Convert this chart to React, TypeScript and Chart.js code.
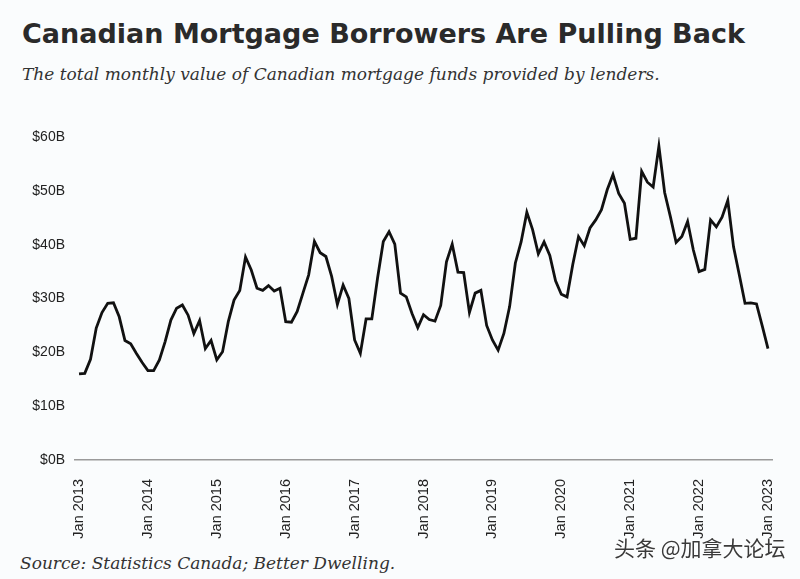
import React, { useEffect, useRef } from "react";
import { Chart, registerables } from "chart.js";

Chart.register(...registerables);

const yearLabels = ["Jan 2013", "Jan 2014", "Jan 2015", "Jan 2016", "Jan 2017", "Jan 2018", "Jan 2019", "Jan 2020", "Jan 2021", "Jan 2022", "Jan 2023"];

// Monthly values ($B), Jan 2013 .. Jan 2023
const values2013 = [16.0, 16.1, 18.7, 24.5, 27.4, 29.1, 29.2, 26.6, 22.2, 21.6, 19.8, 18.1];
const values2014 = [16.6, 16.6, 18.6, 22.0, 26.0, 28.2, 28.8, 26.9, 23.5, 25.9, 20.7, 22.2];
const values2015 = [18.6, 20.1, 25.7, 29.7, 31.5, 37.7, 35.3, 31.9, 31.5, 32.4, 31.4, 31.9];
const values2016 = [25.7, 25.6, 27.6, 31.0, 34.4, 40.6, 38.5, 37.8, 34.1, 28.9, 32.5, 30.0];
const values2017 = [22.3, 19.8, 26.2, 26.2, 33.8, 40.6, 42.4, 40.1, 31.0, 30.3, 27.2, 24.6];
const values2018 = [27.0, 26.1, 25.8, 28.7, 36.8, 40.1, 34.9, 34.8, 27.4, 31.0, 31.5, 25.0];
const values2019 = [22.3, 20.4, 23.5, 28.5, 36.6, 40.5, 46.0, 42.8, 38.3, 40.5, 38.0, 33.3];
const values2020 = [30.8, 30.3, 36.3, 41.5, 39.8, 43.1, 44.6, 46.5, 50.2, 53.0, 49.5, 47.7];
const values2021 = [41.0, 41.2, 53.6, 51.6, 50.7, 58.3, 49.7, 45.2, 40.4, 41.5, 44.3, 39.0];
const values2022 = [35.0, 35.4, 44.6, 43.3, 45.1, 48.2, 39.6, 34.4, 29.1, 29.2, 29.0, 24.9];
const values2023 = [20.7];

const yTicks = [0, 10, 20, 30, 40, 50, 60];

const allValues = [
  ...values2013, ...values2014, ...values2015, ...values2016, ...values2017,
  ...values2018, ...values2019, ...values2020, ...values2021, ...values2022, ...values2023,
];

export default function App() {
  const ref = useRef<HTMLCanvasElement | null>(null);

  useEffect(() => {
    if (!ref.current) return;
    const data = allValues.map((v, i) => ({ x: i, y: v }));
    const chart = new Chart(ref.current, {
      type: "line",
      data: {
        datasets: [
          {
            data,
            borderColor: "#111111",
            borderWidth: 2.8,
            pointRadius: 0,
            tension: 0,
            fill: false,
          },
        ],
      },
      options: {
        animation: false,
        responsive: false,
        maintainAspectRatio: false,
        layout: { padding: { left: 0, right: 28, top: 37, bottom: 0 } },
        plugins: { legend: { display: false }, tooltip: { enabled: false } },
        scales: {
          x: {
            type: "linear",
            min: -0.7,
            max: 120.7,
            afterBuildTicks: (scale: any) => {
              scale.ticks = yearLabels.map((_, k) => ({ value: k * 12 }));
            },
            afterFit: (scale: any) => {
              scale.height = 85;
              scale.paddingLeft = 0;
              scale.paddingRight = 0;
            },
            grid: { display: false, drawTicks: false },
            border: { display: true, color: "#9a9a9a", width: 1.5 },
            ticks: {
              autoSkip: false,
              minRotation: 90,
              maxRotation: 90,
              padding: 19,
              color: "#222222",
              font: { family: "'Liberation Sans', Arial, sans-serif", size: 14.5 },
              callback: (v: any) => yearLabels[Math.round(Number(v) / 12)] ?? "",
            },
          },
          y: {
            min: 0,
            max: 60,
            afterBuildTicks: (scale: any) => {
              scale.ticks = yTicks.map((v) => ({ value: v }));
            },
            afterFit: (scale: any) => {
              scale.width = 75;
              scale.paddingTop = 0;
              scale.paddingBottom = 0;
            },
            grid: { display: false, drawTicks: false },
            border: { display: false },
            ticks: {
              padding: 10,
              color: "#222222",
              font: { family: "'Liberation Sans', Arial, sans-serif", size: 14 },
              callback: (v: any) => "$" + v + "B",
            },
          },
        },
      },
    });
    return () => chart.destroy();
  }, []);

  return (
    <div
      style={{
        position: "absolute",
        left: 0,
        top: 0,
        width: 800,
        height: 579,
        background: "#fafcfd",
        overflow: "hidden",
      }}
    >
      <div
        style={{
          position: "absolute",
          left: 22,
          top: 18,
          fontFamily: "'DejaVu Sans', sans-serif",
          fontWeight: 700,
          fontSize: 27,
          color: "#2a2a2a",
          whiteSpace: "nowrap",
        }}
      >
        Canadian Mortgage Borrowers Are Pulling Back
      </div>
      <div
        style={{
          position: "absolute",
          left: 22,
          top: 64,
          fontFamily: "'DejaVu Serif', serif",
          fontStyle: "italic",
          fontSize: 17,
          color: "#333333",
          whiteSpace: "nowrap",
        }}
      >
        The total monthly value of Canadian mortgage funds provided by lenders.
      </div>
      <canvas
        ref={ref}
        width={800}
        height={445}
        style={{ position: "absolute", left: 0, top: 100, width: 800, height: 445 }}
      />
      <div
        style={{
          position: "absolute",
          left: 20,
          top: 553,
          fontFamily: "'DejaVu Serif', serif",
          fontStyle: "italic",
          fontSize: 17,
          color: "#333333",
          whiteSpace: "nowrap",
        }}
      >
        Source: Statistics Canada; Better Dwelling.
      </div>
      <div
        style={{
          position: "absolute",
          left: 614,
          top: 532,
          fontFamily: "'Noto Sans CJK SC', sans-serif",
          fontSize: 21,
          color: "#3a3a3a",
          whiteSpace: "nowrap",
          textShadow: "0 0 2px #ffffff, 0 0 2px #ffffff",
        }}
      >
        头条 @加拿大论坛
      </div>
    </div>
  );
}
